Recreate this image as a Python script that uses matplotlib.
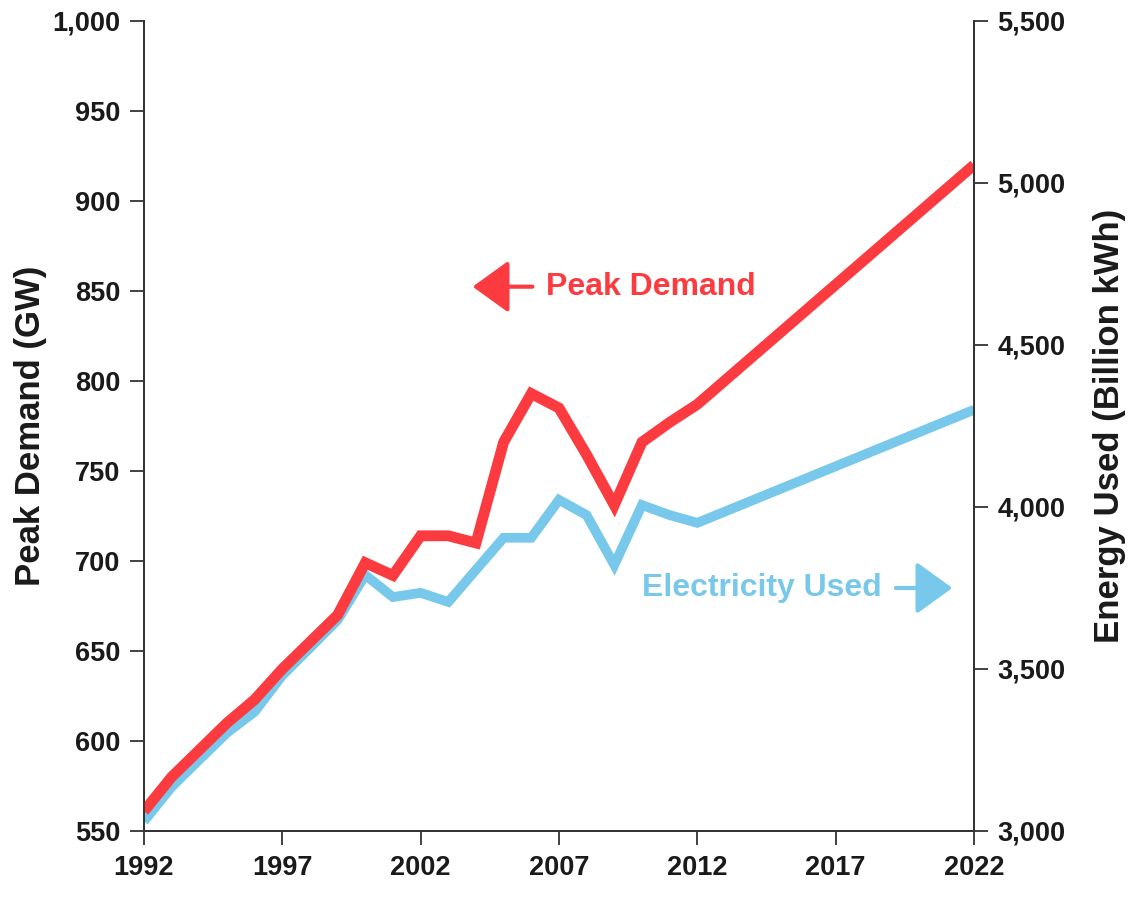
#!/usr/bin/env python3
"""
Peak demand (GW) and electricity used (billion kWh), 1992-2022, on twin y axes.
Saves out.png.
"""

import matplotlib
matplotlib.use("Agg")
import matplotlib.pyplot as plt
import matplotlib.ticker as ticker


# ---------------------------------------------------------------------------
# Data
# ---------------------------------------------------------------------------

years = [1992, 1993, 1994, 1995, 1996, 1997, 1998, 1999, 2000, 2001, 2002,
         2003, 2004, 2005, 2006, 2007, 2008, 2009, 2010, 2011, 2012, 2022]

peak_demand_gw = [561, 580, 595, 610, 623, 640, 655, 670, 699, 692, 714,
                  714, 710, 766, 793, 785, 759, 731, 766, 777, 787, 920]

energy_used_bkwh = [3030, 3136, 3220, 3303, 3368, 3480, 3565, 3651, 3790, 3722, 3735,
                    3707, 3806, 3905, 3905, 4022, 3975, 3821, 4006, 3975, 3951, 4300]

x_ticks = [1992, 1997, 2002, 2007, 2012, 2017, 2022]
left_ticks = list(range(550, 1001, 50))
right_ticks = list(range(3000, 5501, 500))

RED = "#FB3B3F"
BLUE = "#77C8EA"
INK = "#1a1a1a"

plt.rcParams["font.family"] = ["Liberation Sans", "DejaVu Sans"]
plt.rcParams["font.weight"] = "bold"

fig = plt.figure(figsize=(11.3, 9.01), dpi=100)
ax = fig.add_axes([0.1274, 0.0777, 0.7345, 0.899])
ax2 = ax.twinx()

# blue line lives on the right axis, red on the left; red sits on top
ax.set_zorder(ax2.get_zorder() + 1)
ax.patch.set_visible(False)

ax2.plot(years, energy_used_bkwh, color=BLUE, lw=7.0, solid_joinstyle="miter",
         solid_capstyle="butt")
ax.plot(years, peak_demand_gw, color=RED, lw=7.8, solid_joinstyle="miter",
        solid_capstyle="butt")

ax.set_xlim(1992, 2022)
ax.set_ylim(550, 1000)
ax2.set_ylim(3000, 5500)

ax.set_xticks(x_ticks)
ax.set_yticks(left_ticks)
ax2.set_yticks(right_ticks)
comma = ticker.FuncFormatter(lambda v, _: f"{int(v):,}")
ax.yaxis.set_major_formatter(comma)
ax2.yaxis.set_major_formatter(comma)

for a in (ax, ax2):
    a.spines["top"].set_visible(False)
    for s in ("left", "right", "bottom"):
        a.spines[s].set_linewidth(1.3)
        a.spines[s].set_color("#333333")
    a.tick_params(axis="both", direction="out", length=10, width=1.3,
                  colors="#333333", labelcolor=INK, labelsize=19.5, pad=7)

ax.set_ylabel("Peak Demand (GW)", fontsize=25, fontweight="bold", color=INK, labelpad=4)
ax2.set_ylabel("Energy Used (Billion kWh)", fontsize=25, fontweight="bold", color=INK,
               labelpad=20)

# in-plot labels with arrows
arrow_style = "-|>,head_length=0.9,head_width=0.65"

ax.text(0.611, 0.672, "Peak Demand", transform=ax.transAxes, color=RED,
        fontsize=23, fontweight="bold", ha="center", va="center")
ax.annotate("", xy=(0.396, 0.672), xytext=(0.468, 0.672),
            xycoords="axes fraction", textcoords="axes fraction",
            arrowprops=dict(arrowstyle=arrow_style, mutation_scale=25, lw=3,
                            color=RED, shrinkA=0, shrinkB=0))

ax.text(0.744, 0.300, "Electricity Used", transform=ax.transAxes, color=BLUE,
        fontsize=23, fontweight="bold", ha="center", va="center")
ax.annotate("", xy=(0.974, 0.300), xytext=(0.906, 0.300),
            xycoords="axes fraction", textcoords="axes fraction",
            arrowprops=dict(arrowstyle=arrow_style, mutation_scale=25, lw=3,
                            color=BLUE, shrinkA=0, shrinkB=0))

fig.savefig("out.png", dpi=100)
plt.close(fig)
